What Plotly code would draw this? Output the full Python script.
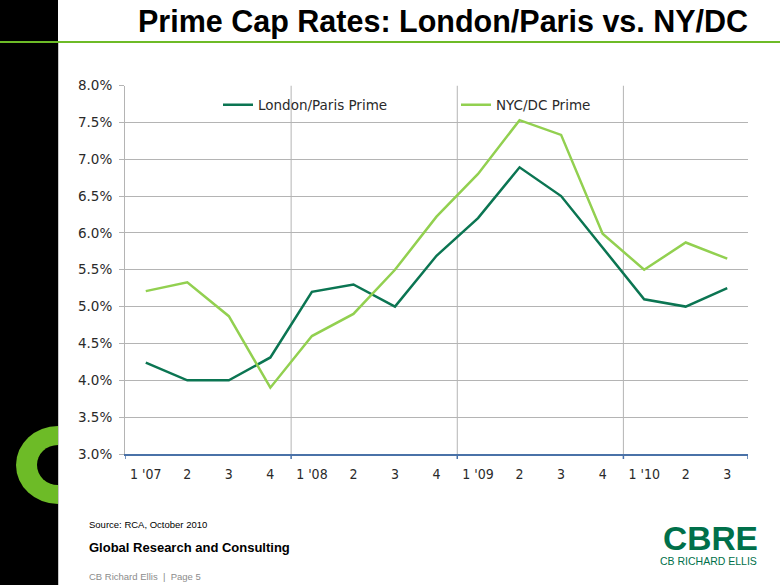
import plotly.graph_objects as go

W, H = 780, 585

quarters = ["1 '07", "2", "3", "4", "1 '08", "2", "3", "4",
            "1 '09", "2", "3", "4", "1 '10", "2", "3"]
london_paris = [4.24, 4.00, 4.00, 4.31, 5.20, 5.30, 5.00, 5.69,
                6.20, 6.89, 6.50, 5.80, 5.10, 5.00, 5.25]
nyc_dc = [5.21, 5.33, 4.87, 3.90, 4.60, 4.90, 5.50, 6.22,
          6.80, 7.53, 7.33, 5.99, 5.50, 5.87, 5.65]
y_ticks = [3.0, 3.5, 4.0, 4.5, 5.0, 5.5, 6.0, 6.5, 7.0, 7.5, 8.0]
year_breaks = [3.5, 7.5, 11.5]


def px(x):
    return x / W


def py(y):
    return 1 - y / H


xi = list(range(len(quarters)))

fig = go.Figure()
fig.add_trace(go.Scatter(x=xi, y=london_paris, mode="lines", name="London/Paris Prime",
                         line=dict(color="#0B7552", width=2.5)))
fig.add_trace(go.Scatter(x=xi, y=nyc_dc, mode="lines", name="NYC/DC Prime",
                         line=dict(color="#92D050", width=2.5)))

shapes = []
# left black bar
shapes.append(dict(type="rect", xref="paper", yref="paper", x0=0, x1=px(58), y0=0, y1=1,
                   fillcolor="black", line=dict(width=0), layer="below"))
# green C
shapes.append(dict(type="circle", xref="paper", yref="paper",
                   x0=px(58 - 42), x1=px(58 + 42), y0=py(465 + 39), y1=py(465 - 39),
                   fillcolor="#6DBB27", line=dict(width=0), layer="below"))
shapes.append(dict(type="circle", xref="paper", yref="paper",
                   x0=px(58 - 21), x1=px(58 + 21), y0=py(465 + 20), y1=py(465 - 20),
                   fillcolor="black", line=dict(width=0), layer="below"))
shapes.append(dict(type="rect", xref="paper", yref="paper", x0=px(58), x1=px(110), y0=0, y1=py(44),
                   fillcolor="white", line=dict(width=0), layer="below"))
shapes.append(dict(type="line", xref="paper", yref="paper", x0=px(58.5), x1=px(58.5), y0=0, y1=py(42),
                   line=dict(color="#C8C8C8", width=1), layer="below"))
# green title rule
shapes.append(dict(type="line", xref="paper", yref="paper", x0=0, x1=1, y0=py(42), y1=py(42),
                   line=dict(color="#6DBB27", width=2), layer="below"))
# vertical year separators
for b in year_breaks:
    shapes.append(dict(type="line", xref="x", yref="y", x0=b, x1=b, y0=3, y1=8,
                       line=dict(color="#B4B4B4", width=1), layer="below"))
# x-axis tick marks at boundaries
for b in [-0.5] + year_breaks + [14.5]:
    shapes.append(dict(type="line", xref="x", yref="paper", x0=b, x1=b, y0=py(454), y1=py(459),
                       line=dict(color="#4A72A8", width=1.5)))

annotations = [
    dict(text="<b>Prime Cap Rates: London/Paris vs. NY/DC</b>", x=px(750), y=py(22),
         xref="paper", yref="paper", xanchor="right", yanchor="middle", showarrow=False,
         font=dict(family="Liberation Sans, Arial", size=30.5, color="black")),
    dict(text="Source: RCA, October 2010", x=px(87), y=py(524), xref="paper", yref="paper",
         xanchor="left", yanchor="middle", showarrow=False,
         font=dict(family="Liberation Sans, Arial", size=9.5, color="black")),
    dict(text="<b>Global Research and Consulting</b>", x=px(87), y=py(547), xref="paper", yref="paper",
         xanchor="left", yanchor="middle", showarrow=False,
         font=dict(family="Liberation Sans, Arial", size=13, color="black")),
    dict(text="CB Richard Ellis  |  Page 5", x=px(87), y=py(576), xref="paper", yref="paper",
         xanchor="left", yanchor="middle", showarrow=False,
         font=dict(family="Liberation Sans, Arial", size=9.5, color="#8C8C8C")),
    dict(text="<b>CBRE</b>", x=px(760), y=py(538), xref="paper", yref="paper",
         xanchor="right", yanchor="middle", showarrow=False,
         font=dict(family="Liberation Sans, Arial", size=33.5, color="#00704A")),
    dict(text="CB RICHARD ELLIS", x=px(759), y=py(561), xref="paper", yref="paper",
         xanchor="right", yanchor="middle", showarrow=False,
         font=dict(family="Liberation Sans, Arial", size=10.5, color="#00704A")),
]

fig.update_layout(
    width=W, height=H,
    margin=dict(l=0, r=0, t=0, b=0),
    paper_bgcolor="white", plot_bgcolor="white",
    shapes=shapes, annotations=annotations,
    showlegend=True,
    legend=dict(orientation="h", x=px(218), y=py(105), xanchor="left", yanchor="middle",
                entrywidth=193, entrywidthmode="pixels", bgcolor="rgba(0,0,0,0)",
                font=dict(family="DejaVu Sans", size=13.5, color="#2A2A2A")),
    xaxis=dict(domain=[px(125), px(748)], range=[-0.5, 14.5], tickmode="array",
               tickvals=xi, ticktext=quarters, showgrid=False, zeroline=False,
               showline=True, linecolor="#4A72A8", linewidth=2, ticks="",
               ticklabelstandoff=6, automargin=False,
               tickfont=dict(family="DejaVu Sans Condensed, DejaVu Sans", size=14, color="#2A2A2A")),
    yaxis=dict(domain=[py(454), py(85.5)], range=[3, 8], tickmode="array",
               tickvals=y_ticks, ticktext=[f"{v:.1f}%" for v in y_ticks],
               showgrid=True, gridcolor="#B4B4B4", gridwidth=1, zeroline=False,
               showline=True, linecolor="#B4B4B4", linewidth=1,
               ticks="outside", ticklen=5, tickcolor="#B4B4B4",
               ticklabelstandoff=4, automargin=False,
               tickfont=dict(family="DejaVu Sans", size=13.5, color="#2A2A2A")),
)

fig.write_html("out.html", config={"displayModeBar": False},
               post_script="document.body.style.margin='0px';")
